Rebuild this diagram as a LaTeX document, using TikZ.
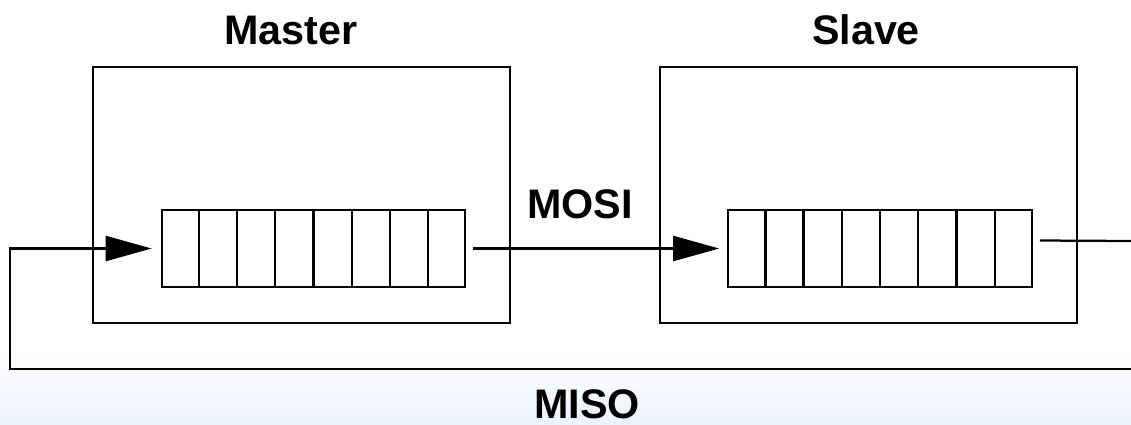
\documentclass[tikz,border=0pt]{standalone}
\usepackage{fontspec}
\setmainfont{Liberation Sans}
\usetikzlibrary{arrows.meta,calc}

\definecolor{bgblue}{RGB}{236,242,252}

\tikzset{
  lbl/.style={font=\bfseries\fontsize{23.5}{28}\selectfont,inner sep=0pt,anchor=base},
  unit/.style={draw,inner sep=0pt,minimum width=8.34cm,minimum height=5.12cm},
  shreg/.style={draw,inner sep=0pt,minimum width=6.07cm,minimum height=1.54cm},
  tip/.style={-{Triangle[length=0.92cm,width=0.5cm]}}
}

\begin{document}
\begin{tikzpicture}[x=0.02cm,y=-0.02cm,line width=0.045cm]
        % background
        \fill[white] (0,0) rectangle (1131,424);
        \shade[top color=white,bottom color=bgblue] (0,350) rectangle (1131,424);
        \useasboundingbox (0,0) rectangle (1131,424);

        % boxes
        \node[unit] (master) at (301.5,195) {};
        \node[unit] (slave) at (868.5,195) {};
        \node[shreg] (mreg) at (313.5,248.5) {};
        \node[shreg] (sreg) at (880,248.5) {};
        \foreach \r in {mreg,sreg}
          \foreach \i in {1,...,7}
            \draw ($(\r.north west)!\i/8!(\r.north east)$) -- ($(\r.south west)!\i/8!(\r.south east)$);

        \node[lbl] (mlbl) at (291,44) {Master};
        \node[lbl] (slbl) at (866,44) {Slave};
        \node[lbl] (mosi) at (580,218) {MOSI};
        \node[lbl] (miso) at (587,418) {MISO};

        % lines
        \coordinate (sout) at (1131,241);
        \coordinate (mret) at (1131,369);
        \coordinate (loop) at (10,369);
        \draw[tip] ([xshift=0.14cm]mreg.east) -- ([xshift=-0.16cm]sreg.west);
        \draw ([shift={(7,-8)}]sreg.east) -- (sout);
        \draw[tip] (mret) -- (loop) |- ([xshift=-0.18cm]mreg.west);
      \end{tikzpicture}
\end{document}
